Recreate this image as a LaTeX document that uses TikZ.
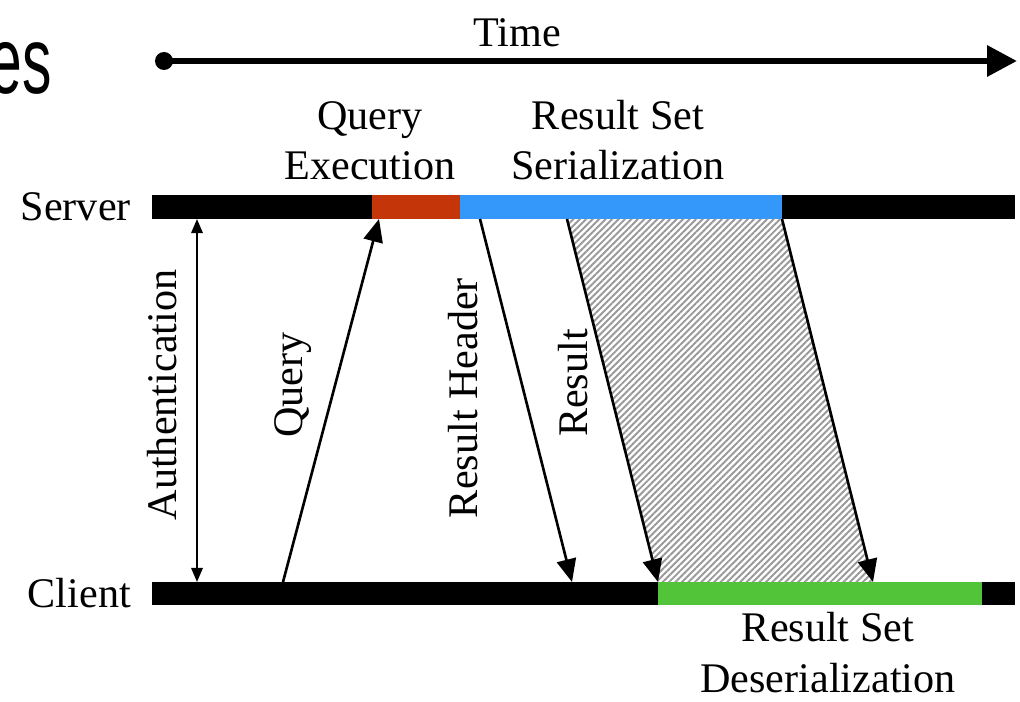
\documentclass[tikz,border=0pt]{standalone}
\usepackage{fontspec}
\setmainfont{Liberation Serif}
\newfontfamily\slidefont{Liberation Sans}
\usepackage{tikz}
\usetikzlibrary{arrows.meta, patterns.meta}
\definecolor{execred}{RGB}{196,54,10}
\definecolor{serblue}{RGB}{52,152,250}
\definecolor{desgreen}{RGB}{82,196,58}
\tikzstyle{label} = [inner sep=0pt, align=center]
\tikzstyle{timeline} = [line width=3.6pt, -{Triangle[length=17pt, width=17pt]}]
\tikzstyle{auth} = [line width=1.1pt, {Triangle[length=8pt, width=6.5pt]}-{Triangle[length=8pt, width=6.5pt]}]
\tikzstyle{msg} = [line width=1.5pt, -{Triangle[length=13pt, width=11pt]}]
\tikzstyle{hatch} = [pattern={Lines[angle=45, distance=2.6pt, line width=1.1pt]}, pattern color=gray!80]

\begin{document}
\begin{tikzpicture}[x=0.02cm, y=-0.02cm, font=\fontsize{24}{28.5}\selectfont]
\useasboundingbox (0,0) rectangle (1020,702);
\node (title) [anchor=base east, inner sep=0pt, xscale=0.62, font=\slidefont\fontsize{54}{60}\selectfont] at (52,94) {es};

% time axis
\coordinate (t0) at (164,61);
\coordinate (t1) at (1017,61);
\fill (t0) circle [radius=0.18cm];
\draw [timeline] (t0) -- (t1);
\node (time) [label] at (517,33) {Time};

% server and client lines
\fill (152,195) rectangle (1015,219);
\fill [execred] (372,195) rectangle (460,219);
\fill [serblue] (460,195) rectangle (782,219);
\fill (152,582) rectangle (1015,605);
\fill [desgreen] (658,582) rectangle (982,605);
\node (server) [anchor=east] at (137,207) {Server};
\node (client) [anchor=east] at (137,593) {Client};

\node (qexec) [label, anchor=base] at (370,180) {Query\\Execution};
\node (rser) [label, anchor=base] at (618,180) {Result Set\\Serialization};
\node (rdes) [label, anchor=base] at (828,692) {Result Set\\Deserialization};

% message end points
\coordinate (a0) at (197,219);
\coordinate (a1) at (197,582);
\coordinate (q0) at (283,582);
\coordinate (q1) at (379,219);
\coordinate (h0) at (480,219);
\coordinate (h1) at (572,582);
\coordinate (r0) at (567,219);
\coordinate (r1) at (658,582);
\coordinate (s0) at (782,219);
\coordinate (s1) at (873,582);

\fill [hatch] (r0) -- (s0) -- (s1) -- (r1) -- cycle;
\draw [auth] (a0) -- (a1);
\draw [msg] (q0) -- (q1);
\draw [msg] (h0) -- (h1);
\draw [msg] (r0) -- (r1);
\draw [msg] (s0) -- (s1);

\node (authl) [label, rotate=90] at (162,395) {Authentication};
\node (queryl) [label, rotate=90] at (293,385) {Query};
\node (headl) [label, rotate=90] at (463,398) {Result Header};
\node (resl) [label, rotate=90] at (573,383) {Result};
\end{tikzpicture}
\end{document}
